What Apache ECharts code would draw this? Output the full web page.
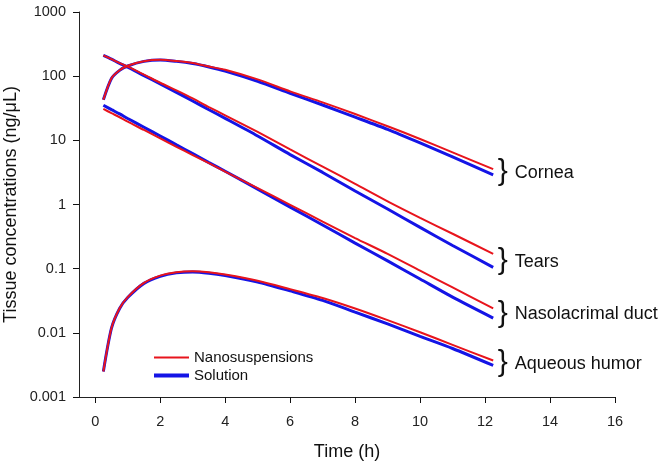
<!DOCTYPE html>
<html>
<head>
<meta charset="utf-8">
<script src="https://cdn.jsdelivr.net/npm/echarts@6/dist/echarts.min.js"></script>
<style>
html,body{margin:0;padding:0;background:#fff;}
#chart{width:661px;height:464px;}
</style>
</head>
<body>
<div id="chart"></div>
<script>
// Time points (h)
const times = [0.25, 0.5, 0.75, 1, 1.5, 2, 2.5, 3, 3.5, 4, 5, 6, 7, 8, 9, 10, 11, 12.25];

// Cornea (ng/µL)
const corneaNano = [43, 93, 124, 145, 171, 180, 172, 160, 141, 126, 89, 58, 39, 25.7, 16.6, 10.5, 6.5, 3.55];
const corneaSol  = [43, 92, 123, 144, 170, 179, 170, 157, 139, 120, 83, 54, 35.5, 23, 14.8, 9.1, 5.5, 2.9];

// Tears
const tearsNano = [211, 184, 160, 141, 106, 79, 60, 45, 33, 24.5, 13.5, 7.2, 3.9, 2.1, 1.12, 0.62, 0.35, 0.17];
const tearsSol  = [211, 184, 158, 138, 102, 76, 56, 41, 30, 22, 11.7, 6.0, 3.16, 1.62, 0.85, 0.44, 0.23, 0.105];

// Nasolacrimal duct
const ductNano = [30.8, 26.5, 22.9, 19.5, 14.5, 10.7, 7.9, 5.9, 4.4, 3.25, 1.8, 0.99, 0.54, 0.30, 0.17, 0.093, 0.051, 0.024];
const ductSol  = [35.2, 30.1, 25.8, 21.9, 16, 11.7, 8.5, 6.2, 4.5, 3.3, 1.74, 0.91, 0.48, 0.25, 0.132, 0.069, 0.036, 0.017];

// Aqueous humor
const aqueousNano = [0.0025, 0.0119, 0.0242, 0.036, 0.060, 0.078, 0.088, 0.091, 0.088, 0.081, 0.065, 0.048, 0.035, 0.024, 0.0158, 0.0102, 0.0065, 0.0037];
const aqueousSol  = [0.0025, 0.0118, 0.024, 0.0355, 0.059, 0.076, 0.086, 0.089, 0.085, 0.078, 0.062, 0.045, 0.032, 0.021, 0.0138, 0.0088, 0.0057, 0.0031];

const tissueLabels = ['Cornea', 'Tears', 'Nasolacrimal duct', 'Aqueous humor'];
const seriesNames = ['Nanosuspensions', 'Solution'];
const xTicks = [0, 2, 4, 6, 8, 10, 12, 14, 16];
const yTicks = [0.001, 0.01, 0.1, 1, 10, 100, 1000];

const RED = '#e8141c';
const BLUE = '#1414e6';
const FONT = 'Liberation Sans, Arial, sans-serif';

const groups = [
  {label: tissueLabels[0], nano: corneaNano, sol: corneaSol},
  {label: tissueLabels[1], nano: tearsNano, sol: tearsSol},
  {label: tissueLabels[2], nano: ductNano, sol: ductSol},
  {label: tissueLabels[3], nano: aqueousNano, sol: aqueousSol}
];

function pairs(vals) { return times.map((t, i) => [t, vals[i]]); }

const series = [];
groups.forEach(g => {
  series.push({
    name: seriesNames[1], type: 'line', data: pairs(g.sol), showSymbol: false, symbol: 'none',
    smooth: 0.25, lineStyle: {color: BLUE, width: 3}, itemStyle: {color: BLUE}, z: 2
  });
});
groups.forEach(g => {
  const last = times.length - 1;
  const mid = Math.sqrt(g.nano[last] * g.sol[last]);
  series.push({
    name: seriesNames[0], type: 'line', data: pairs(g.nano), showSymbol: false, symbol: 'none',
    smooth: 0.25, lineStyle: {color: RED, width: 2}, itemStyle: {color: RED}, z: 3,
    markPoint: {
      symbol: 'circle', symbolSize: 1, itemStyle: {color: 'rgba(0,0,0,0)'},
      silent: true,
      data: [{coord: [times[last], mid], value: g.label}],
      label: {
        show: true, position: 'right', distance: 4,
        fontSize: 30, fontFamily: FONT, color: '#111',
        formatter: '}{t|' + g.label + '}',
        rich: {
          t: {fontSize: 18, fontFamily: FONT, color: '#111', verticalAlign: 'middle', padding: [2, 0, 0, 7]}
        }
      }
    }
  });
});

const chart = echarts.init(document.getElementById('chart'), null, {renderer: 'canvas'});
chart.setOption({
  animation: false,
  backgroundColor: '#fff',
  textStyle: {fontFamily: FONT},
  grid: {left: 79, right: 46, top: 12, bottom: 67, containLabel: false, outerBoundsMode: 'none'},
  legend: [{
    orient: 'vertical', left: 149, top: 345, itemWidth: 35, itemHeight: 2,
    data: [{name: seriesNames[0], icon: 'rect'}],
    textStyle: {fontSize: 15, color: '#111'},
    selectedMode: false
  }, {
    orient: 'vertical', left: 149, top: 363, itemWidth: 35, itemHeight: 4,
    data: [{name: seriesNames[1], icon: 'rect'}],
    textStyle: {fontSize: 15, color: '#111'},
    selectedMode: false
  }],
  xAxis: {
    type: 'value', min: -0.5, max: 16,
    name: 'Time (h)', nameLocation: 'middle', nameGap: 46, nameMoveOverlap: false,
    nameTextStyle: {fontSize: 18, color: '#111'},
    axisLine: {onZero: false, lineStyle: {color: '#222', width: 1}},
    axisTick: {show: true, length: 6, inside: false, customValues: xTicks, lineStyle: {color: '#111', width: 1}},
    axisLabel: {customValues: xTicks, fontSize: 14.5, color: '#222', margin: 17},
    splitLine: {show: false}
  },
  yAxis: {
    type: 'log', logBase: 10, min: 0.001, max: 1000,
    name: 'Tissue concentrations (ng/μL)', nameLocation: 'middle', nameGap: 59, nameMoveOverlap: false,
    nameTextStyle: {fontSize: 18, color: '#111'},
    axisLine: {show: true, onZero: false, lineStyle: {color: '#222', width: 1}},
    axisTick: {show: true, length: 6, inside: false, lineStyle: {color: '#111', width: 1}},
    axisLabel: {fontSize: 14.5, color: '#222', margin: 13,
      formatter: v => String(+Number(v).toPrecision(6))},
    splitLine: {show: false},
    minorTick: {show: false}
  },
  series: series
});
</script>
</body>
</html>
